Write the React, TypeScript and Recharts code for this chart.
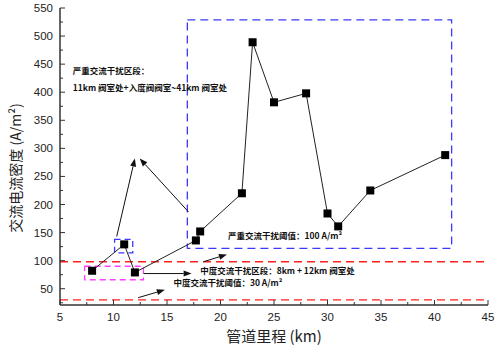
import React from 'react';
import {
  LineChart,
  Line,
  XAxis,
  YAxis,
  ReferenceLine,
  ReferenceArea,
  ReferenceDot,
} from 'recharts';

// pipeline mileage (km) and AC current density (A/m²)
const mileage = [8, 11, 12, 17.7, 18.1, 22, 23, 25, 28, 30, 31, 34, 41];
const density = [82, 129, 79, 136, 152, 220, 489, 382, 398, 184, 161, 225, 288];

const xTicks = [5, 7.5, 10, 12.5, 15, 17.5, 20, 22.5, 25, 27.5, 30, 32.5, 35, 37.5, 40, 42.5, 45];
const yTicks = [25, 50, 75, 100, 125, 150, 175, 200, 225, 250, 275, 300, 325, 350, 375, 400, 425, 450, 475, 500, 525, 550];

const severeThreshold = 98;
const moderateThreshold = 30;

// dashed boxes [x1, x2, y1, y2]
const severeBox = [16.9, 41.6, 122, 529];
const peakBox = [10.1, 11.8, 114, 138];
const moderateBox = [7.3, 12.8, 66, 90];

// arrows [x1, y1, x2, y2]
const arrows = [
  [10.3, 143, 12.0, 282],
  [17.0, 187, 12.45, 282],
  [12.8, 77, 17.3, 77],
  [12.3, 34, 14.8, 48],
  [18.4, 98, 20.6, 111],
];

// notes [x, y, text]
const notes: [number, number, string][] = [
  [6.2, 432, '严重交流干扰区段：'],
  [6.2, 402, '11km 阀室处+入度阀阀室~41km 阀室处'],
  [20.7, 139, '严重交流干扰阈值：100 A/m²'],
  [18.1, 77, '中度交流干扰区段：8km + 12km 阀室处'],
  [15.6, 54, '中度交流干扰阈值：30 A/m²'],
];

const data = mileage.map((x, i) => ({ x, y: density[i] }));

const FONT = 'Liberation Sans, Arial, sans-serif';
const CJK = '"Noto Sans CJK SC", sans-serif';

function XTick(props: any) {
  const { x, y, payload } = props;
  const major = payload.value % 5 === 0;
  return (
    <g>
      <line x1={x} y1={y} x2={x} y2={y - (major ? 5 : 3)} stroke="#333" strokeWidth={1} />
      {major && (
        <text x={x} y={y + 16} textAnchor="middle" fontSize={11.5} fontFamily={FONT} fill="#222">
          {payload.value}
        </text>
      )}
    </g>
  );
}

function YTick(props: any) {
  const { x, y, payload } = props;
  const major = payload.value % 50 === 0;
  return (
    <g>
      <line x1={x} y1={y} x2={x + (major ? 5 : 3)} y2={y} stroke="#333" strokeWidth={1} />
      {major && (
        <text x={x - 7} y={y + 4} textAnchor="end" fontSize={11.5} fontFamily={FONT} fill="#222">
          {payload.value}
        </text>
      )}
    </g>
  );
}

function ArrowShape(props: any) {
  const { x1, y1, x2, y2 } = props;
  const a = Math.atan2(y2 - y1, x2 - x1);
  const L = 8;
  const W = 3;
  const bx = x2 - L * Math.cos(a);
  const by = y2 - L * Math.sin(a);
  const p1 = `${bx + W * Math.sin(a)},${by - W * Math.cos(a)}`;
  const p2 = `${bx - W * Math.sin(a)},${by + W * Math.cos(a)}`;
  return (
    <g>
      <line x1={x1} y1={y1} x2={bx} y2={by} stroke="#111" strokeWidth={1} />
      <polygon points={`${x2},${y2} ${p1} ${p2}`} fill="#111" />
    </g>
  );
}

function Square(props: any) {
  const { cx, cy } = props;
  return <rect x={cx - 4} y={cy - 4} width={8} height={8} fill="#000" />;
}

export default function App() {
  return (
    <div style={{ position: 'absolute', left: 0, top: 0, width: 500, height: 351, background: '#fff' }}>
      <LineChart width={500} height={351} data={data} margin={{ top: 8, right: 12, left: 0, bottom: 0 }}>
        <XAxis
          dataKey="x"
          type="number"
          domain={[5, 45]}
          ticks={xTicks}
          interval={0}
          allowDataOverflow
          height={46}
          tickSize={0}
          tickMargin={0}
          tickLine={false}
          tick={<XTick />}
          axisLine={{ stroke: '#333', strokeWidth: 1.5 }}
          label={{
            content: (p: any) => {
              const vb = p.viewBox;
              return (
                <text x={vb.x + vb.width / 2} y={vb.y + 37} textAnchor="middle" fontSize={15} fontFamily={CJK} fill="#222">
                  管道里程 (km)
                </text>
              );
            },
          }}
        />
        <XAxis xAxisId="top" orientation="top" type="number" domain={[5, 45]} height={0} tick={false} tickLine={false} axisLine={{ stroke: '#555', strokeWidth: 1.5 }} />
        <YAxis
          type="number"
          domain={[21, 550]}
          ticks={yTicks}
          interval={0}
          allowDataOverflow
          width={60}
          tickSize={0}
          tickMargin={0}
          tickLine={false}
          tick={<YTick />}
          axisLine={{ stroke: '#333', strokeWidth: 1.5 }}
          label={{
            content: (p: any) => {
              const cx = 15;
              const cy = 168;
              return (
                <text x={cx} y={cy} transform={`rotate(-90 ${cx} ${cy})`} textAnchor="middle" dominantBaseline="central" fontSize={14} fontFamily={CJK} fill="#222">
                  交流电流密度 (A/m²)
                </text>
              );
            },
          }}
        />
        <YAxis yAxisId="right" orientation="right" type="number" domain={[21, 550]} width={0} tick={false} tickLine={false} axisLine={{ stroke: '#555', strokeWidth: 1.5 }} />

        <ReferenceLine y={severeThreshold} stroke="#ff2020" strokeWidth={1.3} strokeDasharray="8 5" />
        <ReferenceLine y={moderateThreshold} stroke="#ff2020" strokeWidth={1.3} strokeDasharray="8 5" />

        <ReferenceArea x1={severeBox[0]} x2={severeBox[1]} y1={severeBox[2]} y2={severeBox[3]} fill="none" fillOpacity={0} stroke="#3a3aff" strokeWidth={1.3} strokeDasharray="8 5" />
        <ReferenceArea x1={peakBox[0]} x2={peakBox[1]} y1={peakBox[2]} y2={peakBox[3]} fill="none" fillOpacity={0} stroke="#3a3aff" strokeWidth={1.3} strokeDasharray="6 4" />
        <ReferenceArea x1={moderateBox[0]} x2={moderateBox[1]} y1={moderateBox[2]} y2={moderateBox[3]} fill="none" fillOpacity={0} stroke="#ff40ff" strokeWidth={1.3} strokeDasharray="6 4" />

        {arrows.map((a, i) => (
          <ReferenceLine
            key={'a' + i}
            segment={[{ x: a[0], y: a[1] }, { x: a[2], y: a[3] }]}
            shape={<ArrowShape />}
            ifOverflow="visible"
          />
        ))}

        {notes.map((n, i) => (
          <ReferenceDot
            key={'n' + i}
            x={n[0]}
            y={n[1]}
            r={0}
            ifOverflow="visible"
            shape={(p: any) => (
              <text x={p.cx} y={p.cy} fontSize={8.5} fontWeight="bold" fontFamily={CJK} fill="#111">
                {n[2]}
              </text>
            )}
          />
        ))}

        <Line
          type="linear"
          dataKey="y"
          stroke="#222"
          strokeWidth={1}
          dot={<Square />}
          activeDot={false}
          isAnimationActive={false}
        />
      </LineChart>
    </div>
  );
}
